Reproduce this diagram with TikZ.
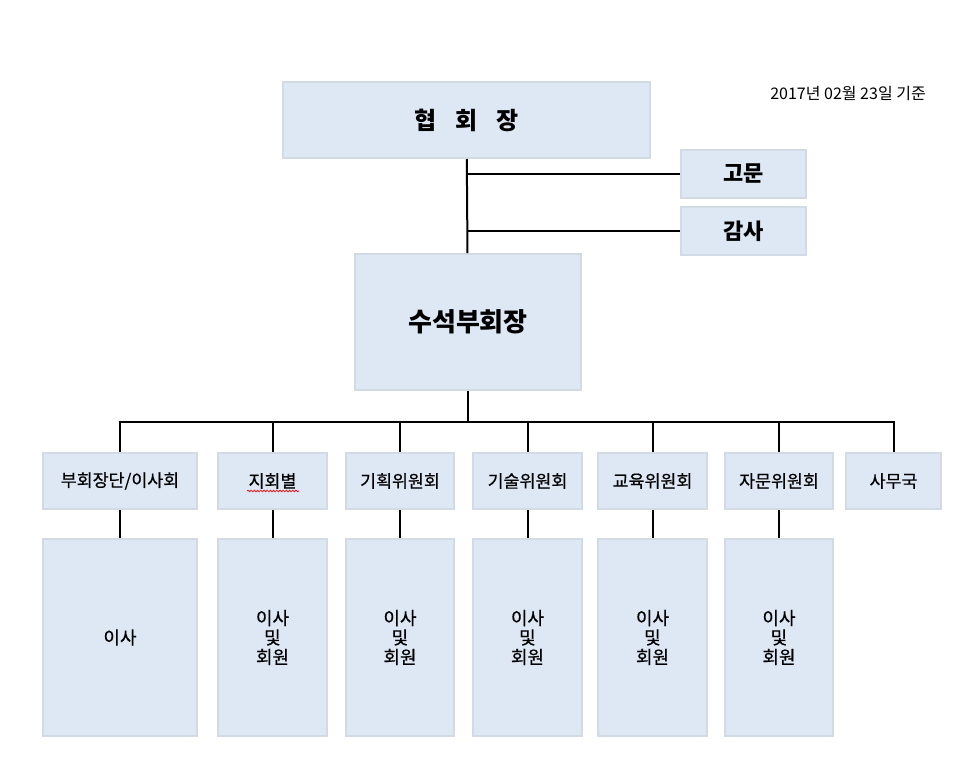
\documentclass[tikz,border=0pt]{standalone}
\usepackage{fontspec}
\setmainfont{Noto Sans CJK KR}
\newfontfamily\medfont[FakeBold=0.5]{Noto Sans CJK KR}
\usepackage{tikz}
\usetikzlibrary{positioning}
\usetikzlibrary{decorations.pathmorphing}
\definecolor{boxfill}{HTML}{DEE8F5}
\definecolor{boxline}{HTML}{D2DAE6}

\begin{document}
\begin{tikzpicture}[x = .75pt, y = -.75pt,
box/.style = {rectangle, draw=boxline, fill=boxfill, line width=1.5pt, inner sep=0pt},
head/.style = {box, font=\fontsize{18}{20}\selectfont\bfseries},
side/.style = {box, minimum width=93.75pt, minimum height=36pt, font=\fontsize{16.5}{18}\selectfont\bfseries},
unit/.style = {box, minimum height=42pt, font=\fontsize{13}{15}\selectfont\medfont},
member/.style = {box, minimum height=147.75pt, align=center, font=\fontsize{13.5}{14.6}\selectfont\medfont},
link/.style = {line width=1.5pt, draw=black},
spell/.style = {draw=red, line width=.5pt, decorate, decoration={snake, amplitude=.6pt, segment length=2.4pt}}]
\useasboundingbox (0,0) rectangle (973,761);

\node[anchor=east, inner sep=0pt, font=\fontsize{12}{14}\selectfont] (date) at (926,94) {2017년 02월 23일 기준};

\node[head, minimum width=275.25pt, minimum height=57pt] (pres) at (466.5,120) {협\hspace{.8em}회\hspace{.8em}장};
\node[side] (advisor) at (743.5,174) {고문};
\node[side] (auditor) at (743.5,231) {감사};
\node[head, minimum width=169.5pt, minimum height=102pt, font=\fontsize{19.5}{21}\selectfont\bfseries] (svp) at (468,322) {수석부회장};
\coordinate (bus) at (468,422);

% committees
\node[unit, minimum width=115.5pt] (vp) at (120,481) {부회장단/이사회};
\node[unit, minimum width=81.75pt] (branch) at (272.5,481) {지회별};
\node[unit, minimum width=81pt] (plan) at (400,481) {기획위원회};
\node[unit, minimum width=81.75pt] (tech) at (527.5,481) {기술위원회};
\node[unit, minimum width=81.75pt] (edu) at (652.5,481) {교육위원회};
\node[unit, minimum width=81pt] (advice) at (779,481) {자문위원회};
\node[unit, minimum width=71.25pt] (office) at (893.5,481) {사무국};

% members
\node[member, minimum width=115.5pt] (vp-m) at (120,637.5) {이사};
\node[member, minimum width=81.75pt] (branch-m) at (272.5,637.5) {이사\\및\\회원};
\node[member, minimum width=81pt] (plan-m) at (400,637.5) {이사\\및\\회원};
\node[member, minimum width=81.75pt] (tech-m) at (527.5,637.5) {이사\\및\\회원};
\node[member, minimum width=81.75pt] (edu-m) at (652.5,637.5) {이사\\및\\회원};
\node[member, minimum width=81pt] (advice-m) at (779,637.5) {이사\\및\\회원};

\draw[spell] (247,491) -- (299,491);

\draw[link] (pres) -- (svp);
\draw[link] (advisor) -- (advisor -| pres);
\draw[link] (auditor) -- (auditor -| pres);
\draw[link] (svp) -- (bus);
\draw[link] (vp.north) |- (bus) -| (office.north);
\foreach \n in {branch,plan,tech,edu,advice}
  \draw[link] (\n) -- (\n |- bus);
\foreach \n in {vp,branch,plan,tech,edu,advice}
  \draw[link] (\n) -- (\n-m);

\end{tikzpicture}
\end{document}
